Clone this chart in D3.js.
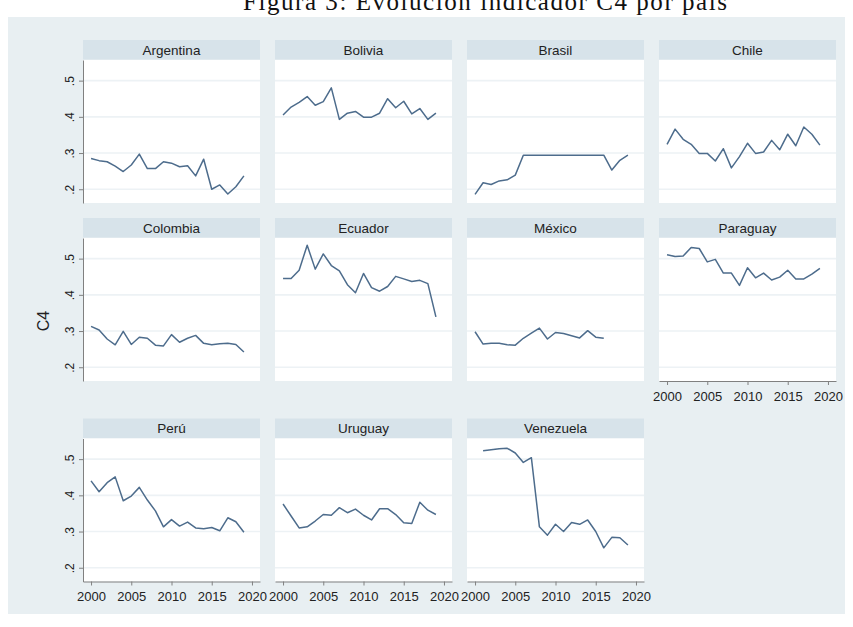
<!DOCTYPE html>
<html>
<head>
<meta charset="utf-8">
<script src="https://cdn.jsdelivr.net/npm/d3@7"></script>
<style>
  body { margin: 0; background: #fff; }
  text { font-family: "Liberation Sans", Arial, sans-serif; fill: #222; }
</style>
</head>
<body>
<div id="app"></div>
<script>
// values
const countries = ["Argentina", "Bolivia", "Brasil", "Chile", "Colombia", "Ecuador",
                   "México", "Paraguay", "Perú", "Uruguay", "Venezuela"];

const years = [2000, 2001, 2002, 2003, 2004, 2005, 2006, 2007, 2008, 2009,
               2010, 2011, 2012, 2013, 2014, 2015, 2016, 2017, 2018, 2019];

const argentina = [.285, .279, .276, .264, .249, .267, .297, .257, .257, .276,
                   .272, .262, .265, .237, .283, .200, .212, .187, .207, .237];
const bolivia   = [.405, .427, .440, .456, .432, .442, .480, .393, .410, .415,
                   .399, .399, .410, .450, .425, .443, .408, .423, .393, .410];
const brasil    = [.186, .218, .213, .223, .226, .239, .294, .294, .294, .294,
                   .294, .294, .294, .294, .294, .294, .294, .253, .280, .294];
const chile     = [.324, .366, .338, .324, .299, .299, .278, .312, .259, .290,
                   .327, .299, .303, .335, .309, .352, .320, .372, .352, .322];
const colombia  = [.313, .303, .278, .262, .299, .263, .283, .280, .261, .259,
                   .290, .269, .280, .288, .266, .262, .265, .266, .263, .242];
const ecuador   = [.445, .445, .468, .537, .471, .513, .481, .466, .428, .406,
                   .459, .420, .410, .423, .451, .444, .437, .440, .431, .339];
const mexico    = [.298, .264, .266, .266, .262, .261, .280, .294, .308, .278,
                   .296, .293, .287, .281, .301, .283, .280, null, null, null];
const paraguay  = [.511, .506, .507, .531, .528, .491, .498, .460, .460, .426,
                   .475, .447, .460, .441, .449, .468, .444, .444, .457, .473];
const peru      = [.440, .410, .435, .451, .385, .398, .422, .387, .357, .313,
                   .333, .315, .326, .310, .308, .311, .302, .338, .327, .298];
const uruguay   = [.376, .343, .310, .313, .329, .347, .345, .366, .352, .362,
                   .345, .332, .363, .363, .347, .324, .322, .381, .359, .347];
const venezuela = [null, .523, .526, .529, .530, .517, .491, .504, .313, .290,
                   .320, .300, .325, .320, .332, .300, .255, .284, .283, .263];

const series = [argentina, bolivia, brasil, chile, colombia, ecuador,
                mexico, paraguay, peru, uruguay, venezuela];

const yTicks = [.2, .3, .4, .5]
    , xTicks = [2000, 2005, 2010, 2015, 2020];

const width = 853
    , height = 627
    , plotW = 177
    , plotH = 143
    , stripH = 19.5
    , colX = [83, 275, 467, 659]
    , rowY = [60, 238, 438.5];

const bg = "#e8eff2"
    , stripFill = "#d7e3ea"
    , gridColor = "#edf2f5"
    , axisColor = "#808080"
    , lineColor = "#4d6c8c";

const svg = d3.select("#app").append("svg")
    .attr("width", width)
    .attr("height", height);

// outer graph region
svg.append("rect")
    .attr("x", 8).attr("y", 17)
    .attr("width", 837).attr("height", 597)
    .attr("fill", bg);

// title (cut at the top, as in the reference)
svg.append("text")
    .attr("x", 485).attr("y", 10)
    .attr("text-anchor", "middle")
    .attr("textLength", 484)
    .style("font-family", "'Liberation Serif', 'DejaVu Serif', serif")
    .style("font-size", "25px")
    .style("fill", "#111")
    .text("Figura 3: Evolución indicador C4 por país");

// y axis title
svg.append("text")
    .attr("transform", "translate(48.5,321) rotate(-90)")
    .attr("text-anchor", "middle")
    .style("font-size", "16px")
    .text("C4");

const x = d3.scaleLinear().domain([1999, 2021]).range([0, plotW]);
const y = d3.scaleLinear().domain([.162, .557]).range([plotH, 0]);

const fmt = d => String(d).replace(/^0/, "");

const line = d3.line()
    .defined(d => d[1] != null)
    .x(d => x(d[0]))
    .y(d => y(d[1]));

countries.forEach((name, i) => {
  const col = i % 4
      , row = Math.floor(i / 4)
      , showY = col === 0
      , showX = row === 2 || (row === 1 && col === 3);

  const g = svg.append("g")
      .attr("transform", `translate(${colX[col]},${rowY[row]})`);

  // strip
  g.append("rect")
      .attr("x", 0).attr("y", -stripH - .5)
      .attr("width", plotW).attr("height", stripH)
      .attr("fill", stripFill);
  g.append("text")
      .attr("x", plotW / 2).attr("y", -5.5)
      .attr("text-anchor", "middle")
      .style("font-size", "13.5px")
      .text(name);

  // plot region
  g.append("rect")
      .attr("width", plotW).attr("height", plotH)
      .attr("fill", "#fff");

  g.append("g")
    .selectAll("line")
      .data(yTicks)
    .enter().append("line")
      .attr("x1", 0).attr("x2", plotW)
      .attr("y1", d => y(d)).attr("y2", d => y(d))
      .attr("stroke", gridColor)
      .attr("stroke-width", 1.6);

  g.append("path")
      .datum(years.map((yr, j) => [yr, series[i][j]]))
      .attr("fill", "none")
      .attr("stroke", lineColor)
      .attr("stroke-width", 1.5)
      .attr("stroke-linejoin", "round")
      .attr("d", line);

  if (showY) {
    const ya = g.append("g")
        .call(d3.axisLeft(y).tickValues(yTicks).tickSize(4).tickSizeOuter(0).tickFormat(fmt));
    ya.select(".domain").attr("stroke", axisColor);
    ya.selectAll(".tick line").attr("stroke", axisColor);
    ya.selectAll(".tick text")
        .attr("transform", "rotate(-90)")
        .attr("x", 0).attr("y", -9.5).attr("dy", 0)
        .attr("text-anchor", "middle")
        .style("font-size", "12px")
        .style("font-family", "'Liberation Sans', Arial, sans-serif")
        .style("fill", "#222");
  }

  if (showX) {
    const xa = g.append("g")
        .attr("transform", `translate(0,${plotH})`)
        .call(d3.axisBottom(x).tickValues(xTicks).tickSize(4).tickSizeOuter(0)
          .tickPadding(6.5).tickFormat(d3.format("d")));
    xa.select(".domain").attr("stroke", axisColor);
    xa.selectAll(".tick line").attr("stroke", axisColor);
    xa.selectAll(".tick text")
        .style("font-size", "13px")
        .style("font-family", "'Liberation Sans', Arial, sans-serif")
        .style("fill", "#222");
  }
});
</script>
</body>
</html>
